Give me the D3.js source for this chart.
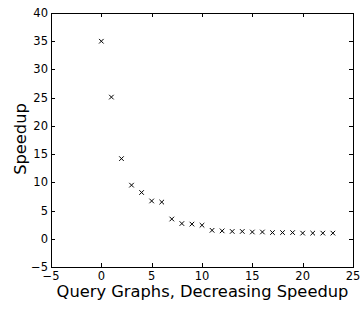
<!DOCTYPE html>
<html><head><meta charset="utf-8">
<script src="https://cdn.jsdelivr.net/npm/d3@7"></script>
<style>html,body{margin:0;padding:0;background:#fff;}svg{display:block;}</style>
</head><body>
<script>
const xValues = [0,1,2,3,4,5,6,7,8,9,10,11,12,13,14,15,16,17,18,19,20,21,22,23];
const speedup = [35,25.1,14.2,9.5,8.2,6.7,6.5,3.5,2.7,2.6,2.4,1.5,1.4,1.3,1.3,1.2,1.2,1.1,1.1,1.1,1.0,1.0,1.0,1.0];
const xTicks = [-5,0,5,10,15,20,25];
const yTicks = [-5,0,5,10,15,20,25,30,35,40];
const xLabel = "Query Graphs, Decreasing Speedup";
const yLabel = "Speedup";

const W = 361, H = 309;
const m = {left: 51, right: 8, top: 13, bottom: 42};
const svg = d3.select("body").append("svg").attr("width", W).attr("height", H);
const x = d3.scaleLinear().domain([-5,25]).range([m.left, W - m.right]);
const y = d3.scaleLinear().domain([-5,40]).range([H - m.bottom, m.top]);
const font = "DejaVu Sans, sans-serif";

// ticks inside on all sides
const tl = 4;
const gAxes = svg.append("g").attr("stroke","#000").attr("stroke-width",1).attr("shape-rendering","crispEdges");
xTicks.forEach(t => {
  const px = Math.round(x(t)) + 0.5;
  gAxes.append("line").attr("x1",px).attr("x2",px).attr("y1",y(-5)).attr("y2",y(-5)-tl);
  gAxes.append("line").attr("x1",px).attr("x2",px).attr("y1",y(40)).attr("y2",y(40)+tl);
});
yTicks.forEach(t => {
  const py = Math.round(y(t)) + 0.5;
  gAxes.append("line").attr("x1",x(-5)).attr("x2",x(-5)+tl).attr("y1",py).attr("y2",py);
  gAxes.append("line").attr("x1",x(25)).attr("x2",x(25)-tl).attr("y1",py).attr("y2",py);
});
gAxes.append("rect")
  .attr("x", Math.round(x(-5)) + 0.5).attr("y", Math.round(y(40)) + 0.5)
  .attr("width", Math.round(x(25)) - Math.round(x(-5)))
  .attr("height", Math.round(y(-5)) - Math.round(y(40)))
  .attr("fill","none");

const fmt = d => d < 0 ? "\u2212" + Math.abs(d) : String(d);
svg.append("g").selectAll("text").data(xTicks).join("text")
  .attr("x", d => x(d)).attr("y", y(-5) + 13)
  .attr("text-anchor","middle").attr("font-family",font).attr("font-size",11.5)
  .text(fmt);
svg.append("g").selectAll("text").data(yTicks).join("text")
  .attr("x", x(-5) - 3).attr("y", d => y(d) + 4)
  .attr("text-anchor","end").attr("font-family",font).attr("font-size",11.5)
  .text(fmt);

svg.append("text").attr("x", (x(-5)+x(25))/2 + 0.5).attr("y", 297)
  .attr("text-anchor","middle").attr("font-family",font).attr("font-size",16.3)
  .text(xLabel);
svg.append("text").attr("transform", `translate(26,${(y(-5)+y(40))/2 - 1}) rotate(-90)`)
  .attr("text-anchor","middle").attr("font-family",font).attr("font-size",16.3)
  .text(yLabel);

// x markers
const s = 2.3;
const gm = svg.append("g").attr("stroke","#000").attr("stroke-width",1);
xValues.forEach((xv,i) => {
  const cx = x(xv), cy = y(speedup[i]);
  gm.append("path").attr("d", `M${cx-s},${cy-s}L${cx+s},${cy+s}M${cx-s},${cy+s}L${cx+s},${cy-s}`);
});
</script>
</body></html>
